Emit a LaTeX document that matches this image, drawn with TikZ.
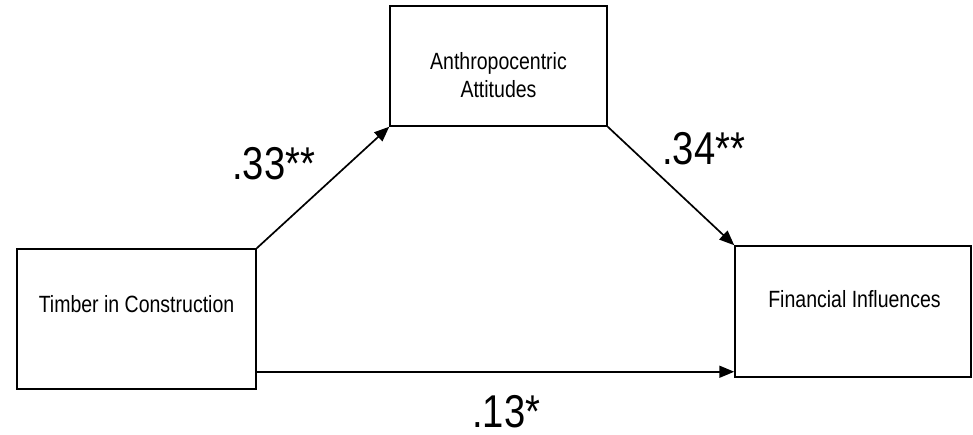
\documentclass[tikz,border=0pt]{standalone}
\usepackage{fontspec}
\setmainfont{Liberation Sans}[FakeStretch=0.83]
\usetikzlibrary{arrows.meta}

\begin{document}
\begin{tikzpicture}[x=1pt, y=-1pt,
          box/.style={draw, line width=1.5pt, rectangle, inner sep=0pt},
          txt/.style={font=\fontsize{23.5}{27.5}\selectfont, align=center, inner sep=0pt},
          coef/.style={font=\fontsize{46}{50}\selectfont, inner sep=0pt, anchor=base west},
          arr/.style={-{Triangle[length=15pt,width=12pt]}, line width=1.7pt}]
        \useasboundingbox (0,0) rectangle (973,435);
        % boxes
        \node[box, minimum width=239pt, minimum height=140pt] (timber)    at (136.5,319) {};
        \node[box, minimum width=217pt, minimum height=120pt] (attitudes) at (498.5,66)  {};
        \node[box, minimum width=236pt, minimum height=131pt] (financial) at (853,311.5) {};
        \node[txt] (timbertxt)    at (136.5,304) {Timber in Construction};
        \node[txt] (attitudestxt) at (498.5,75)  {Anthropocentric\\Attitudes};
        \node[txt] (financialtxt) at (854.5,299) {Financial Influences};
        % paths
        \draw[arr] (timber.north east) -- (attitudes.south west);
        \draw[arr] (attitudes.south east) -- (financial.north west);
        \draw[arr] ([yshift=18pt]timber.south east) -- ([yshift=18pt]timber.south east -| financial.west);
        % coefficients
        \node[coef] (pa) at (232,180) {.33**};
        \node[coef] (pb) at (662,165) {.34**};
        \node[coef] (pc) at (472,427) {.13*};
\end{tikzpicture}
\end{document}
